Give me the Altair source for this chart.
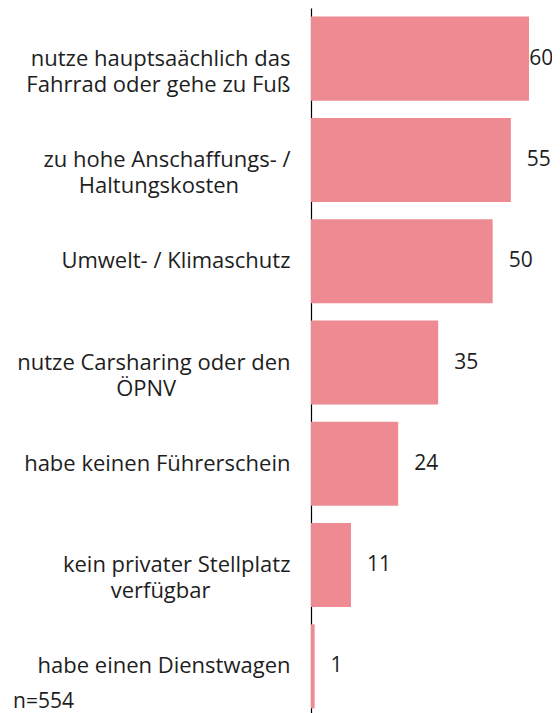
import altair as alt
import pandas as pd

line1 = [
    "nutze hauptsaächlich das",
    "zu hohe Anschaffungs- /",
    "Umwelt- / Klimaschutz",
    "nutze Carsharing oder den",
    "habe keinen Führerschein",
    "kein privater Stellplatz",
    "habe einen Dienstwagen",
]
line2 = [
    "Fahrrad oder gehe zu Fuß",
    "Haltungskosten",
    "",
    "ÖPNV",
    "",
    "verfügbar",
    "",
]
values = [60, 55, 50, 35, 24, 11, 1]
note = "n=554"

FONT = "Open Sans"
TEXT = "#1e1e1e"
BAR = "#ee8a91"


def make_label(a, b):
    if not b:
        return a
    # pad the shorter second line with non-breaking spaces so it sits centred
    k = max(0, round((len(a) - len(b)) * 0.95))
    if k == 0:
        return a + "\n" + b
    return a + "\n" + b + "\u00a0" * k + "\u2060"


labels = [make_label(a, b) for a, b in zip(line1, line2)]
df = pd.DataFrame({"label": labels, "value": values})

y = alt.Y(
    "label:N",
    sort=labels,
    title=None,
    scale=alt.Scale(paddingInner=0.17, paddingOuter=0.085),
    axis=alt.Axis(
        labelExpr="split(datum.label, '\\n')",
        labelAlign="right",
        labelBaseline="middle",
        labelFont=FONT,
        labelFontSize=22,
        labelLineHeight=26,
        labelColor=TEXT,
        labelPadding=21,
        labelLimit=0,
        ticks=False,
        domainColor="#000000",
        domainWidth=1.2,
        grid=False,
    ),
)

xs = alt.Scale(domain=[0, 60], nice=False, zero=True)

bars = alt.Chart(df).mark_bar(color=BAR).encode(
    x=alt.X("value:Q", scale=xs, axis=None),
    y=y,
)

vals = (
    alt.Chart(df)
    .transform_calculate(pos="min(datum.value + 4.4, 60.1)")
    .mark_text(align="left", baseline="middle", font=FONT, fontSize=21, color=TEXT)
    .encode(
        x=alt.X("pos:Q", scale=xs, axis=None),
        y=alt.Y("label:N", sort=labels),
        text=alt.Text("value:Q"),
    )
)

notes = (
    alt.Chart(pd.DataFrame({"note": [note]}))
    .mark_text(align="left", baseline="alphabetic", font=FONT, fontSize=21, color=TEXT)
    .encode(text="note:N", x=alt.value(-298), y=alt.value(700))
)

chart = (
    alt.layer(bars, vals, notes)
    .properties(
        width=218,
        height=709,
        autosize=alt.AutoSizeParams(type="none"),
        padding={"left": 303, "top": 0, "right": 23, "bottom": 0},
    )
    .configure_view(stroke=None)
)

chart.save("out.html", embed_options={"renderer": "svg", "actions": False})
